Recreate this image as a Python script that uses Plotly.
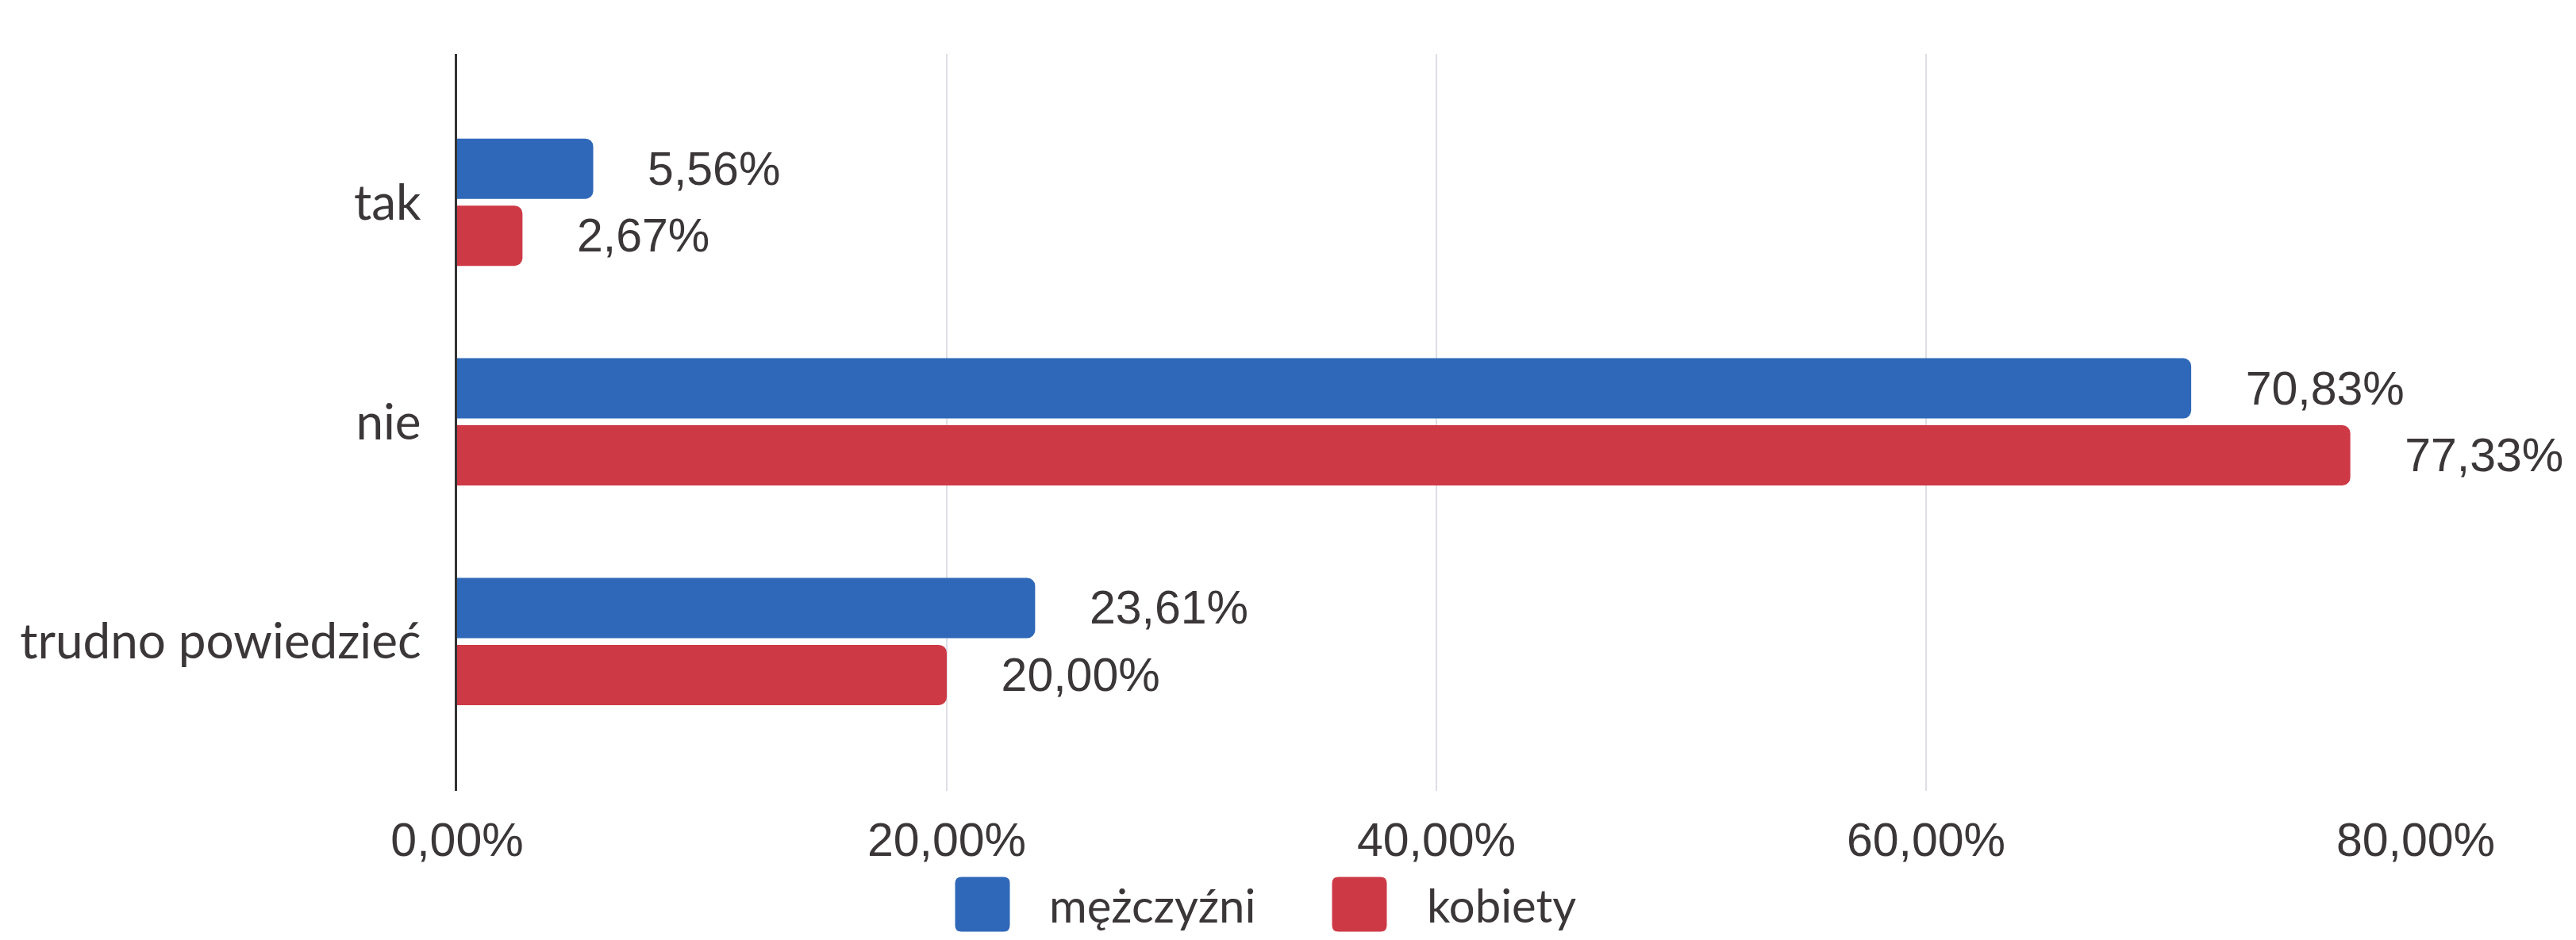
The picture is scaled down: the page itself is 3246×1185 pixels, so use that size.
import plotly.graph_objects as go

# ---- data ----
categories = ["tak", "nie", "trudno powiedzieć"]
series_names = ["mężczyźni", "kobiety"]
men_values = [0.0556, 0.7083, 0.2361]
women_values = [0.0267, 0.7733, 0.2000]
x_tick_values = [0, 0.2, 0.4, 0.6, 0.8]

# ---- styles ----
colors = ["#2F68B8", "#CD3A46"]
text_color = "#3B3637"
num_font = "Liberation Sans"
cat_font = "Lato"

W, H = 3246, 1185
L, R, T, B = 568, 210, 60, 196
plot_w = W - L - R
plot_h = H - T - B

fig = go.Figure()
for name, vals, col in zip(series_names, [men_values, women_values], colors):
    fig.add_trace(go.Bar(
        name=name,
        y=categories,
        x=vals,
        orientation="h",
        marker=dict(color=col, line=dict(width=0)),
        texttemplate="\u00a0\u00a0\u00a0\u00a0%{x:.2%}",
        textposition="outside",
        textfont=dict(family=num_font, size=59, color=text_color),
        constraintext="none",
        cliponaxis=False,
        hoverinfo="skip",
    ))

# custom legend (large rounded swatches)
legend_y_px = 1132
sw = 69
rad = 8
legend_swatch_px = [1230, 1705]
legend_text_px = [1312, 1788]
shapes = []
annotations = []
for name, col, sx, tx in zip(series_names, colors, legend_swatch_px, legend_text_px):
    h = sw / 2
    r = rad
    path = (f"M {-h+r},{-h} L {h-r},{-h} Q {h},{-h} {h},{-h+r} L {h},{h-r} Q {h},{h} {h-r},{h} "
            f"L {-h+r},{h} Q {-h},{h} {-h},{h-r} L {-h},{-h+r} Q {-h},{-h} {-h+r},{-h} Z")
    shapes.append(dict(
        type="path", xref="paper", yref="paper",
        xsizemode="pixel", ysizemode="pixel",
        xanchor=(sx - L) / plot_w, yanchor=(T + plot_h - legend_y_px) / plot_h,
        path=path, fillcolor=col, line=dict(width=0), layer="above",
    ))
    annotations.append(dict(
        text=name, xref="paper", yref="paper",
        x=(tx - L) / plot_w, y=(T + plot_h - legend_y_px) / plot_h,
        xanchor="left", yanchor="middle", showarrow=False,
        font=dict(family=cat_font, size=58, color=text_color),
    ))

fig.update_layout(
    width=W, height=H,
    margin=dict(l=L, r=R, t=T, b=B, pad=0),
    paper_bgcolor="white", plot_bgcolor="white",
    barmode="group", bargap=0.39, bargroupgap=0.1,
    barcornerradius=10,
    separators=", ",
    showlegend=False,
    shapes=shapes,
    annotations=annotations,
    font=dict(family=num_font, color=text_color),
)
fig.update_xaxes(
    range=[0, 0.8], tickvals=x_tick_values, tickformat=".2%",
    showgrid=True, gridcolor="#DEDEE6", gridwidth=2,
    zeroline=False, showline=False, ticks="",
    tickfont=dict(family=num_font, size=59, color=text_color),
    ticklabelstandoff=22,
)
fig.update_yaxes(
    type="category", categoryorder="array", categoryarray=categories,
    range=[2.68, -0.675],
    showline=True, linecolor="#333333", linewidth=3,
    showgrid=False, zeroline=False, ticks="",
    tickfont=dict(family=cat_font, size=62, color=text_color),
    ticklabelstandoff=30,
)

fig.write_html("out.html")
